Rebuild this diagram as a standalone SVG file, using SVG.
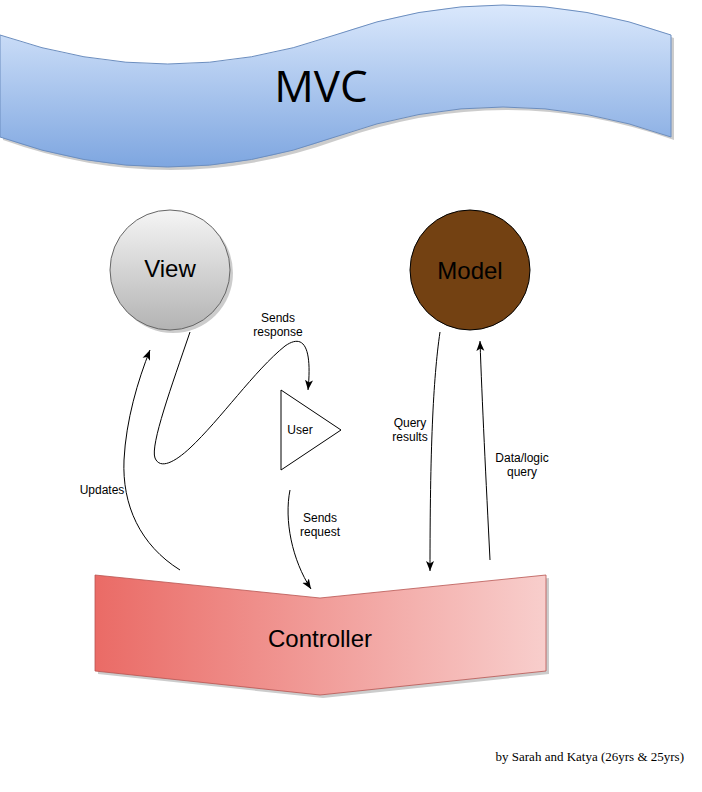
<svg xmlns="http://www.w3.org/2000/svg" width="702" height="792" viewBox="0 0 702 792">
<style>
.lbl{font-family:"Liberation Sans",Arial,sans-serif;font-size:12px;fill:#000;text-anchor:middle}
.big{font-family:"Liberation Sans",Arial,sans-serif;font-size:24px;fill:#000;text-anchor:middle}
.edge{fill:none;stroke:#000;stroke-width:1}
</style>
<defs>
<linearGradient id="gBanner" x1="0" y1="0" x2="0" y2="1">
<stop offset="0" stop-color="#dae8fc"/><stop offset="1" stop-color="#7ea6e0"/>
</linearGradient>
<linearGradient id="gView" x1="0" y1="0" x2="0" y2="1">
<stop offset="0" stop-color="#f5f5f5"/><stop offset="1" stop-color="#b3b3b3"/>
</linearGradient>
<linearGradient id="gCtrl" x1="0" y1="0" x2="1" y2="0">
<stop offset="0" stop-color="#ea6b66"/><stop offset="1" stop-color="#f8cecc"/>
</linearGradient>
<marker id="arr" markerUnits="userSpaceOnUse" markerWidth="10" markerHeight="10" viewBox="0 0 10 10" refX="10" refY="5" orient="auto">
<path d="M0,1 L10,5 L0,9 L2.5,5 Z" fill="#000"/>
</marker>
</defs>

<g id="banner">
<path d="M3,38 Q171,96 338,38 Q506,-22 674,38 L674,140 Q506,80 338,140 Q171,200 3,140 Z" fill="#000" opacity="0.2"/>
<path d="M0,35 Q168,93 335,35 Q503,-25 671,35 L671,137 Q503,77 335,137 Q168,197 0,137 Z" fill="url(#gBanner)" stroke="#6c8ebf" stroke-width="1"/>
<text x="321" y="102" font-family="'Open Sans','Liberation Sans',sans-serif" font-size="44" text-anchor="middle" fill="#000">MVC</text>
</g>

<g id="view">
<circle cx="173" cy="273" r="60" fill="#000" opacity="0.2"/>
<circle cx="170" cy="270" r="60" fill="url(#gView)" stroke="#666666"/>
<text class="big" x="170" y="277">View</text>
</g>

<g id="model">
<circle cx="470" cy="270" r="60" fill="#734112" stroke="#000"/>
<text class="big" x="470" y="279">Model</text>
</g>

<g id="user">
<polygon points="281,390 341,430 281,470" fill="#fff" stroke="#000"/>
<text class="lbl" x="300" y="434">User</text>
</g>

<g id="controller">
<polygon points="98,578 323,601 549,578 549,674 323,698 98,674" fill="#000" opacity="0.2"/>
<polygon points="95,575 320,598 546,575 546,671 320,695 95,671" fill="url(#gCtrl)" stroke="#b85450" stroke-width="0.8"/>
<text class="big" x="320" y="647">Controller</text>
</g>

<g id="connectors">
<path class="edge" d="M190,332 C172,385 150,445 155,458 C160,470 175,462 190,448 C220,420 255,370 285,346 C305,332 312,350 308,390" marker-end="url(#arr)"/>
<path class="edge" d="M180,570 C140,545 122,505 124,460 C126,420 138,380 150,350" marker-end="url(#arr)"/>
<path class="edge" d="M290,490 C284,520 292,560 311,589" marker-end="url(#arr)"/>
<path class="edge" d="M440,332 C433,380 430,450 430,571" marker-end="url(#arr)"/>
<path class="edge" d="M490,560 C486,480 482,400 480,341" marker-end="url(#arr)"/>
<text class="lbl" x="278" y="322">Sends</text>
<text class="lbl" x="278" y="336">response</text>
<text class="lbl" x="410" y="427">Query</text>
<text class="lbl" x="410" y="441">results</text>
<text class="lbl" x="522" y="462">Data/logic</text>
<text class="lbl" x="522" y="476">query</text>
<text class="lbl" x="102" y="494">Updates</text>
<text class="lbl" x="320" y="522">Sends</text>
<text class="lbl" x="320" y="536">request</text>
</g>

<text x="684" y="761" font-family="'Liberation Serif','Times New Roman',serif" font-size="13" text-anchor="end" fill="#000">by Sarah and Katya (26yrs &amp; 25yrs)</text>
</svg>
